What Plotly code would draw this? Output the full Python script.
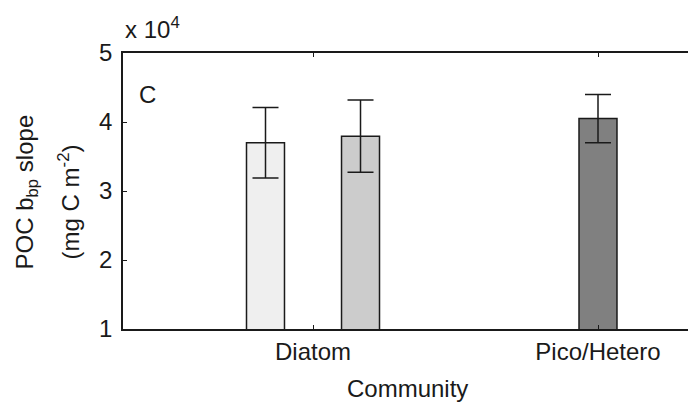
import plotly.graph_objects as go

# Community groups on the x axis and the three bars with their error bars
categories = ["Diatom", "Pico/Hetero"]
bar_names = ["Diatom A", "Diatom B", "Pico/Hetero"]
bar_positions = [0.8333, 1.1667, 2.0]          # category 1 = Diatom, 2 = Pico/Hetero
slope_mean = [37000, 37950, 40500]             # POC b_bp slope (mg C m^-2)
slope_err = [5100, 5250, 3500]
bar_colors = ["#efefef", "#cccccc", "#808080"]

y_ticks = [10000, 20000, 30000, 40000, 50000]
y_tick_text = ["1", "2", "3", "4", "5"]

FONT = "Liberation Sans, Arial, Helvetica, sans-serif"
INK = "#1a1a1a"
FS = 24

fig = go.Figure()
for name, xpos, m, e, c in zip(bar_names, bar_positions, slope_mean, slope_err, bar_colors):
    fig.add_trace(go.Bar(
        name=name, x=[xpos], y=[m], width=0.1333,
        marker=dict(color=c, line=dict(color=INK, width=1.5)),
        error_y=dict(type="data", array=[e], color=INK, thickness=1.5, width=13),
        showlegend=False,
    ))

fig.update_layout(
    width=688, height=403,
    margin=dict(l=123, r=0, t=53, b=74),
    paper_bgcolor="white", plot_bgcolor="white",
    font=dict(family=FONT, size=FS, color=INK),
    xaxis=dict(
        range=[0.3333, 2.3158], tickvals=[1, 2], ticktext=categories,
        showline=True, linecolor=INK, linewidth=1.5, mirror="ticks",
        ticks="inside", ticklen=4, tickcolor=INK, tickwidth=1,
        showgrid=False, zeroline=False, tickfont=dict(size=FS),
    ),
    yaxis=dict(
        range=[10000, 50000], tickvals=y_ticks, ticktext=y_tick_text,
        showline=True, linecolor=INK, linewidth=1.5,
        ticks="inside", ticklen=4, tickcolor=INK, tickwidth=1,
        ticklabelstandoff=4,
        showgrid=False, zeroline=False, tickfont=dict(size=FS),
    ),
    yaxis2=dict(
        range=[10000, 50000], tickvals=y_ticks, overlaying="y", side="right",
        showticklabels=False, showline=False, showgrid=False, zeroline=False,
        ticks="inside", ticklen=3, tickcolor=INK, tickwidth=1,
    ),
)

# Axis label texts
ann = [
    dict(text="Community", x=0.504, y=-0.214, xanchor="center", yanchor="middle"),
    dict(text="C", x=0.043, y=0.848, xanchor="center", yanchor="middle"),
    dict(text="x 10<sup>4</sup>", x=0.0, y=1.0, yshift=8, xanchor="left", yanchor="bottom"),
    dict(text="POC b<sub>bp</sub> slope", x=-0.170, y=0.498, textangle=-90,
         xanchor="center", yanchor="middle"),
    dict(text="(mg C m<sup>-2</sup>)", x=-0.094, y=0.462, textangle=-90,
         xanchor="center", yanchor="middle"),
]
for a in ann:
    fig.add_annotation(xref="paper", yref="paper", showarrow=False,
                       font=dict(size=FS), **a)

fig.write_html("out.html")
